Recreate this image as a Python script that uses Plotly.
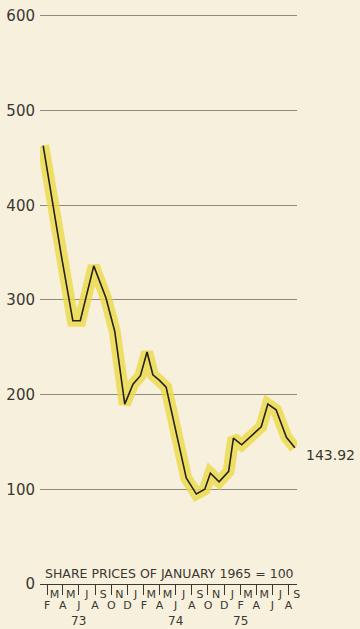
import plotly.graph_objects as go

# Share price index (January 1965 = 100), Feb 1973 - Sep 1975
dates = [
    "1973-01-31", "1973-04-10", "1973-05-23", "1973-06-20", "1973-08-10",
    "1973-09-25", "1973-10-28", "1973-12-05", "1974-01-05", "1974-02-02",
    "1974-02-27", "1974-03-21", "1974-04-15", "1974-05-10", "1974-07-25",
    "1974-09-01", "1974-10-03", "1974-10-24", "1974-11-26", "1975-01-01",
    "1975-01-19", "1975-02-19", "1975-05-04", "1975-05-29", "1975-06-29",
    "1975-08-07", "1975-09-08",
]
values = [
    463, 346, 278, 278, 336,
    302, 267, 190, 211, 220,
    245, 221, 215, 208, 112,
    95, 100, 117, 108, 119,
    154, 147, 166, 190, 184,
    155, 143.92,
]
last_label = "143.92"

# Month ruler: even months sit under the ticks, odd months between them
even_months = [
    "1973-02-15", "1973-04-15", "1973-06-15", "1973-08-15", "1973-10-15", "1973-12-15",
    "1974-02-15", "1974-04-15", "1974-06-15", "1974-08-15", "1974-10-15", "1974-12-15",
    "1975-02-15", "1975-04-15", "1975-06-15", "1975-08-15",
]
even_labels = ["F", "A", "J", "A", "O", "D", "F", "A", "J", "A", "O", "D", "F", "A", "J", "A"]
odd_months = [
    "1973-03-15", "1973-05-15", "1973-07-15", "1973-09-15", "1973-11-15", "1974-01-15",
    "1974-03-15", "1974-05-15", "1974-07-15", "1974-09-15", "1974-11-15", "1975-01-15",
    "1975-03-15", "1975-05-15", "1975-07-15", "1975-09-15",
]
odd_labels = ["M", "M", "J", "S", "N", "J", "M", "M", "J", "S", "N", "J", "M", "M", "J", "S"]
year_positions = ["1973-06-15", "1974-06-15", "1975-02-15"]
year_labels = ["73", "74", "75"]

y_ticks = [0, 100, 200, 300, 400, 500, 600]
caption = "SHARE PRICES OF JANUARY 1965 = 100"

BG = "rgb(247,240,221)"
INK = "#3a3832"
FONT = "DejaVu Sans"
x_range = ["1973-01-19", "1975-09-16"]

fig = go.Figure()

# soft yellow highlight under the index line
fig.add_trace(go.Scatter(
    x=dates, y=values, mode="lines",
    line=dict(color="rgba(236,218,70,0.8)", width=12),
    hoverinfo="skip", showlegend=False,
))
# the index line itself, on the overlaid axis so it draws on top
fig.add_trace(go.Scatter(
    x=dates, y=values, mode="lines", xaxis="x2",
    line=dict(color="#24221c", width=1.6),
    showlegend=False,
))

fig.add_annotation(
    x=dates[-1], y=values[-1], text=last_label, showarrow=False,
    xanchor="left", yanchor="middle", xshift=9, yshift=-7,
    font=dict(family=FONT, size=14, color=INK),
)
fig.add_annotation(
    xref="paper", x=0.505, y=0, text=caption, showarrow=False,
    xanchor="center", yanchor="bottom", yshift=1,
    font=dict(family=FONT, size=12.5, color=INK),
)
for xp, yl in zip(year_positions, year_labels):
    fig.add_annotation(
        x=xp, y=0, text=yl, showarrow=False, yanchor="middle", yshift=-37,
        font=dict(family=FONT, size=12, color=INK),
    )

fig.update_layout(
    width=360, height=629,
    margin=dict(l=40, r=63, t=14, b=45, autoexpand=False),
    paper_bgcolor=BG, plot_bgcolor=BG,
    xaxis=dict(
        type="date", range=x_range, automargin=False,
        tickmode="array", tickvals=even_months, ticktext=even_labels,
        ticks="outside", ticklen=10, tickwidth=1, tickcolor=INK,
        ticklabelstandoff=1,
        showline=True, linecolor=INK, linewidth=1.2,
        showgrid=False, zeroline=False,
        tickfont=dict(family=FONT, size=11, color=INK),
    ),
    xaxis2=dict(
        type="date", range=x_range, overlaying="x", matches="x", side="bottom",
        anchor="y", automargin=False,
        tickmode="array", tickvals=odd_months, ticktext=odd_labels,
        ticks="", showline=False, showgrid=False, zeroline=False,
        ticklabelstandoff=2,
        tickfont=dict(family=FONT, size=11, color=INK),
    ),
    yaxis=dict(
        range=[0, 602], tickmode="array", tickvals=y_ticks, automargin=False,
        ticks="", showline=False, zeroline=False,
        showgrid=True, gridcolor="rgba(95,92,84,0.7)", gridwidth=1,
        ticklabelstandoff=4,
        tickfont=dict(family=FONT, size=15, color=INK),
    ),
)

fig.write_html("out.html")
